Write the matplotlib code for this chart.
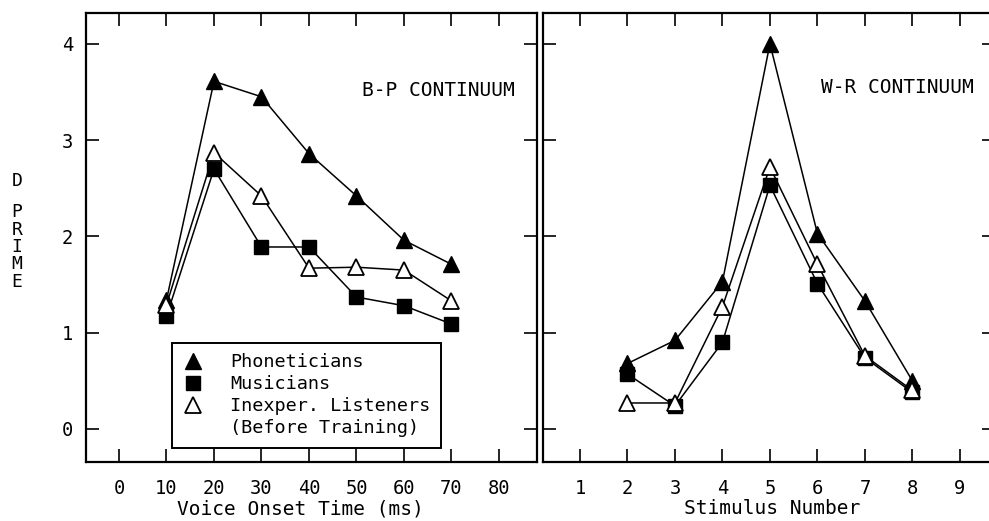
import matplotlib
matplotlib.use('Agg')
from matplotlib import pyplot as plt
from matplotlib.lines import Line2D

# B-P continuum (voice onset time, ms)
vot = [10, 20, 30, 40, 50, 60, 70]
bp_phon = [1.34, 3.61, 3.45, 2.86, 2.42, 1.96, 1.71]
bp_mus = [1.17, 2.70, 1.89, 1.89, 1.37, 1.28, 1.09]
bp_inex = [1.29, 2.87, 2.42, 1.67, 1.68, 1.65, 1.33]

# W-R continuum (stimulus number)
stim = [2, 3, 4, 5, 6, 7, 8]
wr_phon = [0.68, 0.92, 1.53, 4.00, 2.03, 1.33, 0.50]
wr_mus = [0.57, 0.24, 0.90, 2.53, 1.51, 0.74, 0.38]
wr_inex = [0.27, 0.27, 1.27, 2.72, 1.71, 0.76, 0.40]

bp_ticks = [0, 10, 20, 30, 40, 50, 60, 70, 80]
wr_ticks = [1, 2, 3, 4, 5, 6, 7, 8, 9]
y_ticks = [0, 1, 2, 3, 4]

plt.rcParams['font.family'] = ['DejaVu Sans Mono']
plt.rcParams['font.size'] = 14

W, H = 989, 521
fig = plt.figure(figsize=(W / 100, H / 100), dpi=100, facecolor='white')

def px(x0, y0, x1, y1):
    return [x0 / W, 1 - y1 / H, (x1 - x0) / W, (y1 - y0) / H]

ax1 = fig.add_axes(px(85.5, 13, 537, 462))
ax2 = fig.add_axes(px(543, 13, 995, 462))

def draw(ax, x, phon, mus, inex):
    ax.plot(x, phon, color='black', lw=1.1, marker='^', ms=11, mfc='black', mec='black', zorder=3)
    ax.plot(x, mus, color='black', lw=1.1, marker='s', ms=10, mfc='black', mec='black', zorder=3)
    ax.plot(x, inex, color='black', lw=1.1, marker='^', ms=11, mfc='white', mec='black', mew=1.3, zorder=4)

draw(ax1, vot, bp_phon, bp_mus, bp_inex)
draw(ax2, stim, wr_phon, wr_mus, wr_inex)

for ax in (ax1, ax2):
    ax.set_ylim(-0.343, 4.32)
    ax.set_yticks(y_ticks)
    ax.tick_params(direction='in', length=9.5, width=1.2, top=True, right=True,
                   labelsize=13.5)
    ax.tick_params(axis='x', pad=12)
    ax.tick_params(axis='y', pad=9)
    for s in ax.spines.values():
        s.set_linewidth(1.6)

ax1.set_xlim(-7.05, 88.0)
ax1.set_xticks(bp_ticks)
ax1.set_xlabel('Voice Onset Time (ms)')
ax1.xaxis.set_label_coords((300 - 85.5) / 451.5, -0.083)

ax2.set_xlim(0.221, 9.74)
ax2.set_xticks(wr_ticks)
ax2.tick_params(labelleft=False)
ax2.set_xlabel('Stimulus Number')
ax2.xaxis.set_label_coords((772 - 543) / 452, -0.083)

ax1.text(0.781, 0.828, 'B-P CONTINUUM', transform=ax1.transAxes, ha='center', va='center')
ax2.text(0.784, 0.833, 'W-R CONTINUUM', transform=ax2.transAxes, ha='center', va='center')

fig.text(17 / W, 1 - 181 / H, 'D', ha='center', va='center', fontsize=13)
fig.text(17 / W, 1 - 247 / H, 'P\nR\nI\nM\nE', ha='center', va='center',
         linespacing=0.95, fontsize=13)

handles = [
    Line2D([], [], ls='none', marker='^', ms=11, mfc='black', mec='black'),
    Line2D([], [], ls='none', marker='s', ms=10, mfc='black', mec='black'),
    Line2D([], [], ls='none', marker='^', ms=11, mfc='white', mec='black', mew=1.3),
    Line2D([], [], ls='none'),
]
labels = ['Phoneticians', 'Musicians', 'Inexper. Listeners', '(Before Training)']
leg = ax1.legend(handles, labels, loc='upper left', bbox_to_anchor=(0.1916, 0.265),
                 fancybox=False, framealpha=1, edgecolor='black', borderaxespad=0,
                 handlelength=1.2, handletextpad=1.4, labelspacing=0.22,
                 borderpad=0.55, fontsize=13.3)
leg.get_frame().set_linewidth(1.4)

fig.savefig('out.png', dpi=100)
